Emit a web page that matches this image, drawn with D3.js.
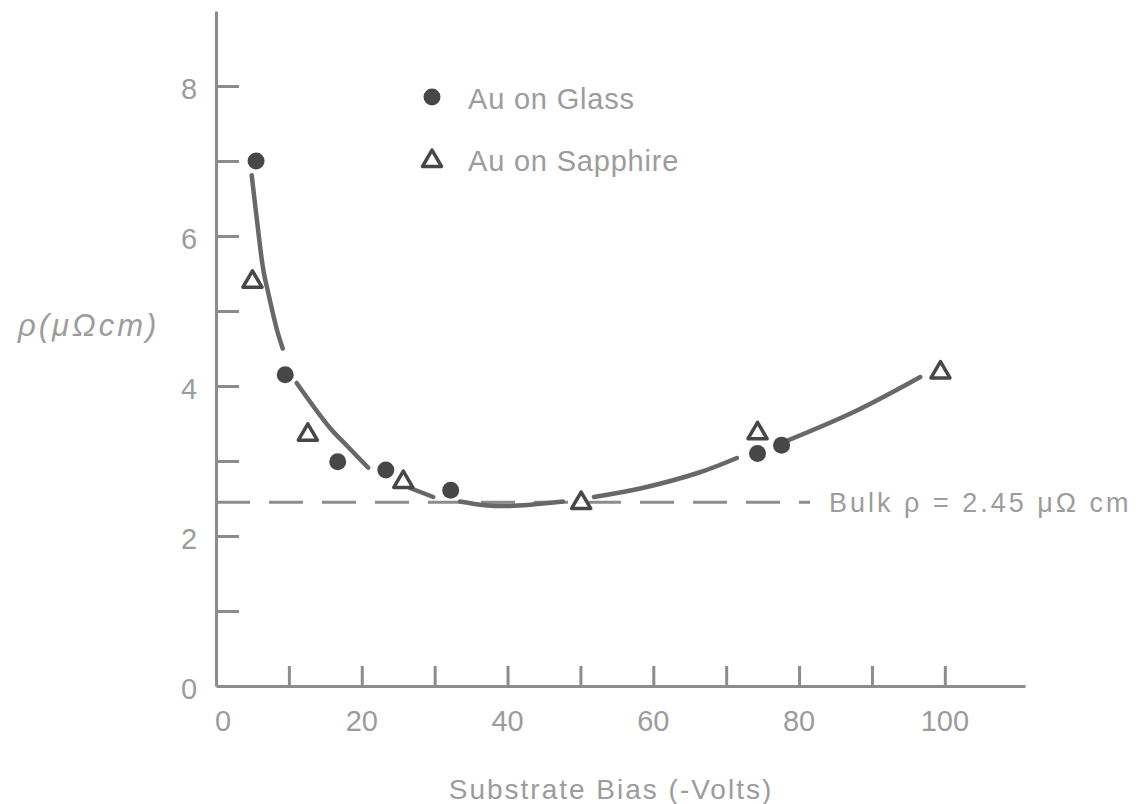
<!DOCTYPE html>
<html>
<head>
<meta charset="utf-8">
<script src="https://cdn.jsdelivr.net/npm/d3@7"></script>
<style>
  html, body { margin: 0; padding: 0; background: #fff; }
  svg { display: block; }
  text { font-family: "Liberation Sans", Arial, sans-serif; fill: #9c9c9c; }
</style>
</head>
<body>
<svg id="chart" width="1140" height="804"></svg>
<script>
// ---- data ----
const glassX = [5.5, 9.5, 16.7, 23.3, 32.2, 74.3, 77.6];
const glassY = [7.0, 4.15, 2.99, 2.88, 2.61, 3.10, 3.21];
const sapphireX = [5.0, 12.6, 25.7, 50.1, 74.3, 99.4];
const sapphireY = [5.39, 3.35, 2.72, 2.44, 3.37, 4.18];
// hand-drawn fit curve (interrupted around markers)
const fitSeg1 = [[4.90, 6.81], [5.62, 6.21], [6.49, 5.55], [7.17, 5.24], [8.33, 4.76], [9.15, 4.50]];
const fitSeg2 = [[11.07, 4.04], [15.64, 3.44], [18.1, 3.19], [20.89, 2.91]];
const fitSeg3 = [[26.61, 2.64], [29.81, 2.52]];
const fitSeg4 = [[33.47, 2.46], [36.9, 2.41], [40.3, 2.40], [47.6, 2.46]];
const fitSeg5 = [[51.85, 2.52], [58.5, 2.64], [66.4, 2.85], [71.47, 3.04]];
const fitSeg6 = [[77.59, 3.24], [87.65, 3.66], [96.63, 4.12]];
const fitSegments = [fitSeg1, fitSeg2, fitSeg3, fitSeg4, fitSeg5, fitSeg6];
const bulkRho = 2.45;
const bulkLineEnd = 81.5;
const xTicks = [10, 20, 30, 40, 50, 60, 70, 80, 90, 100];
const xLabels = [0, 20, 40, 60, 80, 100];
const yTicks = [1, 2, 3, 4, 5, 6, 7, 8];
const yLabels = [0, 2, 4, 6, 8];
const legendLabels = ["Au on Glass", "Au on Sapphire"];
const xTitle = "Substrate Bias (-Volts)";
const yTitle = "ρ(μΩcm)";
const bulkLabel = "Bulk ρ = 2.45 μΩ cm";

// ---- layout ----
const svg = d3.select("#chart");
const x = d3.scaleLinear().domain([0, 111]).range([216, 1025]);
const y = d3.scaleLinear().domain([0, 9]).range([686, 11]);

const axisColor = "#8c8c8c";
const lineColor = "#686868";
const markColor = "#474747";

// axes (ticks pointing inward)
const gx = svg.append("g").attr("transform", `translate(0,${y(0)})`)
  .call(d3.axisBottom(x).tickValues(xTicks).tickSizeInner(-20).tickSizeOuter(0).tickFormat(""));
const gy = svg.append("g").attr("transform", `translate(${x(0)},0)`)
  .call(d3.axisLeft(y).tickValues(yTicks).tickSizeInner(-23).tickSizeOuter(0).tickFormat(""));
[gx, gy].forEach(g => {
  g.select(".domain").attr("stroke", axisColor).attr("stroke-width", 3);
  g.selectAll(".tick line").attr("stroke", axisColor).attr("stroke-width", 3);
});

// tick labels
svg.append("g").selectAll("text").data(xLabels).join("text")
  .attr("x", d => x(d) + (d === 0 ? 7 : 0))
  .attr("y", 731)
  .attr("text-anchor", "middle")
  .attr("font-size", 29)
  .text(d => d);
svg.append("g").selectAll("text").data(yLabels).join("text")
  .attr("x", 189)
  .attr("y", d => y(d) + 13)
  .attr("text-anchor", "middle")
  .attr("font-size", 29)
  .text(d => d);

// axis titles
svg.append("text").attr("x", 611).attr("y", 799).attr("text-anchor", "middle")
  .attr("font-size", 28).attr("letter-spacing", 2).text(xTitle);
svg.append("text").attr("x", 18).attr("y", 336)
  .attr("font-size", 31).attr("font-style", "italic").attr("letter-spacing", 3).text(yTitle);

// bulk dashed line
svg.append("line")
  .attr("x1", x(0)).attr("x2", x(bulkLineEnd))
  .attr("y1", y(bulkRho)).attr("y2", y(bulkRho))
  .attr("stroke", axisColor).attr("stroke-width", 3)
  .attr("stroke-dasharray", "34,19");
svg.append("text").attr("x", 829).attr("y", y(bulkRho) + 10)
  .attr("font-size", 27).attr("letter-spacing", 3).text(bulkLabel);

// fit curve segments
const line = d3.line().x(d => x(d[0])).y(d => y(d[1])).curve(d3.curveCatmullRom);
svg.append("g").selectAll("path").data(fitSegments).join("path")
  .attr("d", line)
  .attr("fill", "none").attr("stroke", lineColor).attr("stroke-width", 4.5)
  .attr("stroke-linecap", "round");

// markers
const triPath = (cx, cy, s) => {
  const h = s * Math.sqrt(3) / 2;
  return `M${cx},${cy - 2 * h / 3}L${cx + s / 2},${cy + h / 3}L${cx - s / 2},${cy + h / 3}Z`;
};
svg.append("g").selectAll("circle").data(glassX).join("circle")
  .attr("cx", d => x(d)).attr("cy", (d, i) => y(glassY[i])).attr("r", 8.5)
  .attr("fill", markColor);
svg.append("g").selectAll("path").data(sapphireX).join("path")
  .attr("d", (d, i) => triPath(x(d), y(sapphireY[i]), 19))
  .attr("fill", "none").attr("stroke", markColor).attr("stroke-width", 3.5)
  .attr("stroke-linejoin", "round");

// legend
svg.append("circle").attr("cx", 432).attr("cy", 97).attr("r", 8.5).attr("fill", markColor);
svg.append("path").attr("d", triPath(432, 161, 19))
  .attr("fill", "none").attr("stroke", markColor).attr("stroke-width", 3.5).attr("stroke-linejoin", "round");
svg.append("g").selectAll("text").data(legendLabels).join("text")
  .attr("x", 468).attr("y", (d, i) => i === 0 ? 109 : 171)
  .attr("font-size", 29).attr("letter-spacing", 0.8)
  .text(d => d);
</script>
</body>
</html>
